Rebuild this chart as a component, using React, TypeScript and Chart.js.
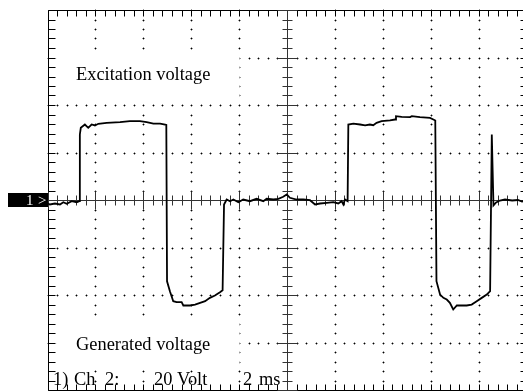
import React, { useEffect, useRef } from "react";
import { Chart, registerables } from "chart.js";

Chart.register(...registerables);

// Oscilloscope trace: time in ms (2 ms/div), voltage in V (20 V/div)
const timeMs = [
  0, 0.08, 0.29, 0.5, 0.64, 0.78, 0.99, 1.2, 1.31,
  1.33, 1.37, 1.54, 1.68, 1.82, 1.96, 2.1, 2.45, 3.01, 3.42, 3.84, 4.12, 4.4, 4.68, 4.89, 4.94,
  4.97, 5.09, 5.23, 5.37, 5.58, 5.65, 5.93, 6.14, 6.35, 6.56, 6.76, 6.97, 7.18, 7.29,
  7.35, 7.46, 7.6, 7.74, 7.95, 8.15, 8.43, 8.71, 8.99, 9.13, 9.41, 9.62, 9.82, 9.97, 10.1, 10.38,
  10.66, 10.94, 11.15, 11.36, 11.64, 11.91, 12.12, 12.26, 12.33, 12.4, 12.51,
  12.54, 12.75, 13.03, 13.24, 13.44, 13.58, 13.72, 13.93, 14.28, 14.49, 14.53, 14.77, 15.12,
  15.19, 15.53, 15.95, 16.09, 16.17,
  16.22, 16.37, 16.51, 16.65, 16.78, 16.92, 17.07, 17.27, 17.48, 17.69, 17.9, 18.11, 18.32, 18.46,
  18.53, 18.6, 18.71, 18.87, 19.08, 19.38, 19.62, 19.79, 20,
];
const volts = [
  -1.26, -1.68, -1.26, -1.68, -0.72, -1.39, -0.29, -0.72, -0.29,
  27.8, 30.6, 32.0, 30.6, 32.0, 31.6, 32.3, 32.7, 33.0, 33.4, 33.4, 33.0, 32.4, 32.4, 32.0, 31.8,
  -34.0, -38.2, -42.4, -42.8, -42.8, -44.2, -44.2, -43.8, -43.1, -42.4, -41.0, -40.0, -38.6, -37.8,
  -1.68, 0.42, -0.29, 0.42, -0.72, 0.42, -0.29, 0.72, -0.29, 0.72, 0.42, 0.72, 1.56, 2.53, 1.14, 0.42,
  0.42, 0.13, -1.68, -1.26, -0.97, -0.72, -1.26, -0.29, -1.68, 0.42, -0.29,
  32.0, 32.4, 32.0, 31.6, 32.0, 31.7, 32.7, 33.4, 33.7, 34.1, 35.5, 35.2, 35.1,
  35.5, 35.1, 34.8, 34.1, 33.7,
  -34.0, -39.6, -41.0, -41.7, -43.1, -45.9, -44.2, -44.2, -44.2, -43.8, -42.4, -41.0, -39.6, -38.2,
  27.8, -2.1, -0.84, 0, 0.42, 0, 0.2, -0.42, 0,
];

const xRange = [0, 20]; // ms
const yRange = [-80, 80]; // V
const xDiv = 2; // ms per division
const yDiv = 20; // V per division

const topLabel = "Excitation voltage";
const bottomLabel = "Generated voltage";
const scaleInfo = ["1)", "Ch", "2:", "20", "Volt", "2", "ms"];
const channelMarker = ["1", ">"];

const scopePlugin = {
  id: "scope",
  beforeDatasetsDraw(chart: any) {
    const { ctx, chartArea: a, scales } = chart;
    const xs = scales.x;
    const ys = scales.y;
    const X = (v: number) => Math.floor(xs.getPixelForValue(v));
    const Y = (v: number) => Math.floor(ys.getPixelForValue(v));
    ctx.save();
    ctx.fillStyle = "#fff";
    ctx.fillRect(0, 0, chart.width, chart.height);

    const xMinor = xDiv / 5;
    const yMinor = yDiv / 5;
    const nxMinor = Math.round((xRange[1] - xRange[0]) / xMinor);
    const nyMinor = Math.round((yRange[1] - yRange[0]) / yMinor);
    const xCenter = (xRange[0] + xRange[1]) / 2;

    // dotted grid
    const dot = (cx: number, cy: number) => {
      ctx.fillStyle = "#9a9a9a";
      ctx.fillRect(cx - 1, cy, 3, 1);
      ctx.fillRect(cx, cy - 1, 1, 3);
      ctx.fillStyle = "#000";
      ctx.fillRect(cx, cy, 1, 1);
    };
    for (let k = 1; k < 10; k++) {
      const xv = xRange[0] + k * xDiv;
      if (xv === xCenter) continue;
      for (let i = 0; i <= nyMinor; i++) dot(X(xv), Y(yRange[0] + i * yMinor));
    }
    for (let j = 1; j < 8; j++) {
      const yv = yRange[0] + j * yDiv;
      if (yv === 0) continue;
      for (let i = 0; i <= nxMinor; i++) dot(X(xRange[0] + i * xMinor), Y(yv));
    }

    // label backgrounds
    ctx.fillStyle = "#fff";
    const box = (x0: number, x1: number, y0: number, y1: number) => {
      const px0 = xs.getPixelForValue(x0);
      const px1 = xs.getPixelForValue(x1);
      const py0 = ys.getPixelForValue(y0);
      const py1 = ys.getPixelForValue(y1);
      ctx.fillRect(px0, py0, px1 - px0, py1 - py0);
    };
    box(0.34, 8.0, 62.7, 42.5);
    box(0.34, 8.0, -49.3, -69.5);

    // border
    ctx.strokeStyle = "#000";
    ctx.lineWidth = 1;
    const L = Math.floor(a.left) + 0.5;
    const R = Math.floor(a.right) + 0.5;
    const T = Math.floor(a.top) + 0.5;
    const B = Math.floor(a.bottom) + 0.5;
    ctx.beginPath();
    ctx.rect(L, T, R - L, B - T);
    // border ticks
    for (let i = 0; i <= nyMinor; i++) {
      const py = Y(yRange[0] + i * yMinor) + 0.5;
      ctx.moveTo(L, py);
      ctx.lineTo(L + 7, py);
      ctx.moveTo(R - 7, py);
      ctx.lineTo(R, py);
    }
    for (let i = 0; i <= nxMinor; i++) {
      const px = X(xRange[0] + i * xMinor) + 0.5;
      ctx.moveTo(px, T);
      ctx.lineTo(px, T + 6);
      ctx.moveTo(px, B - 6);
      ctx.lineTo(px, B);
    }
    ctx.stroke();

    // center axes
    ctx.strokeStyle = "#333";
    ctx.beginPath();
    const cy = Y(0) + 0.5;
    const cx = X(xCenter) + 0.5;
    ctx.moveTo(L, cy);
    ctx.lineTo(R, cy);
    ctx.moveTo(cx, T);
    ctx.lineTo(cx, B);
    for (let i = 0; i <= nxMinor; i++) {
      const px = X(xRange[0] + i * xMinor) + 0.5;
      const len = i % 5 === 0 ? 9 : 5;
      ctx.moveTo(px, cy - len);
      ctx.lineTo(px, cy + len);
    }
    for (let i = 0; i <= nyMinor; i++) {
      const py = Y(yRange[0] + i * yMinor) + 0.5;
      const len = i % 5 === 0 ? 10 : 5;
      ctx.moveTo(cx - len, py);
      ctx.lineTo(cx + len, py);
    }
    ctx.stroke();
    ctx.restore();
  },
  afterDatasetsDraw(chart: any) {
    const { ctx } = chart;
    ctx.save();
    ctx.fillStyle = "#000";
    ctx.textBaseline = "alphabetic";
    ctx.font = '18.4px "Liberation Serif", "Times New Roman", serif';
    ctx.fillText(topLabel, 76, 80);
    ctx.fillText(bottomLabel, 76, 350);
    const xs = [53, 74, 105, 154, 177, 243, 259];
    scaleInfo.forEach((s, i) => ctx.fillText(s, xs[i], 385));
    // channel marker
    ctx.fillStyle = "#000";
    ctx.fillRect(8, 193, 40, 14);
    ctx.fillStyle = "#fff";
    ctx.font = '15px "Liberation Serif", "Times New Roman", serif';
    ctx.fillText(channelMarker[0], 26, 205);
    ctx.fillText(channelMarker[1], 38, 205);
    ctx.restore();
  },
};

export default function App() {
  const ref = useRef<HTMLCanvasElement | null>(null);
  useEffect(() => {
    if (!ref.current) return;
    const chart = new Chart(ref.current, {
      type: "line",
      data: {
        datasets: [
          {
            data: timeMs.map((t, i) => ({ x: t, y: volts[i] })),
            borderColor: "#000",
            borderWidth: 1.8,
            pointRadius: 0,
            tension: 0,
            fill: false,
          },
        ],
      },
      options: {
        animation: false,
        responsive: false,
        devicePixelRatio: 1,
        layout: { padding: { left: 48, top: 10.5, right: 13, bottom: 0.5 } },
        plugins: { legend: { display: false }, tooltip: { enabled: false } },
        scales: {
          x: { type: "linear", min: xRange[0], max: xRange[1], display: false },
          y: { type: "linear", min: yRange[0], max: yRange[1], display: false },
        },
      },
      plugins: [scopePlugin],
    });
    return () => chart.destroy();
  }, []);
  return (
    <div style={{ position: "absolute", left: 0, top: 0, width: 523, height: 391, overflow: "hidden", background: "#fff" }}>
      <canvas ref={ref} width={540} height={391} style={{ width: 540, height: 391, display: "block" }} />
    </div>
  );
}
